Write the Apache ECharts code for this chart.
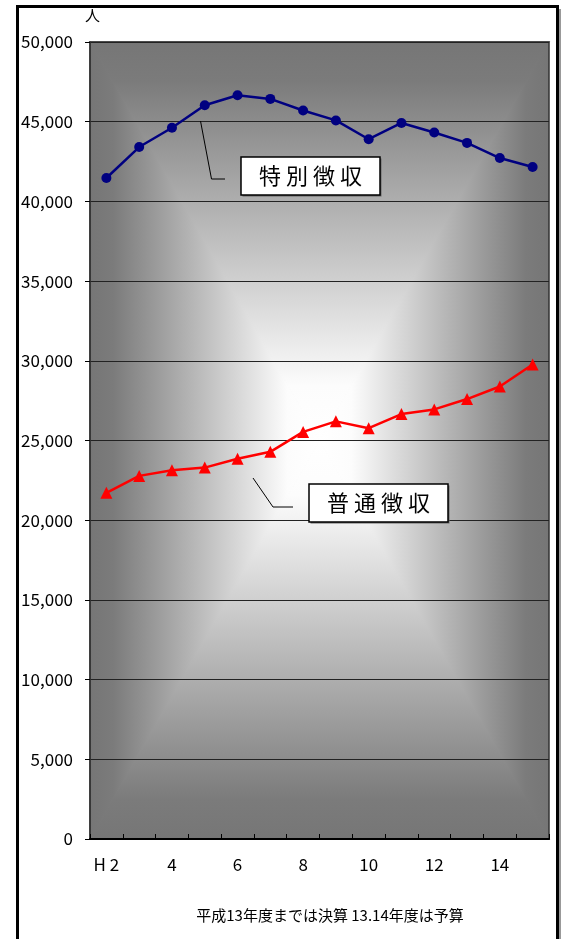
<!DOCTYPE html>
<html>
<head>
<meta charset="utf-8">
<script src="https://cdn.jsdelivr.net/npm/echarts@6/dist/echarts.min.js"></script>
<style>
html,body{margin:0;padding:0;background:#fff;}
#chart{width:567px;height:939px;}
</style>
</head>
<body>
<div id="chart"></div>
<script>
// ---- data ----
const categories = ['H 2','3','4','5','6','7','8','9','10','11','12','13','14','15'];
const tokubetsuName = '特別徴収';
const tokubetsu = [41470, 43410, 44620, 46030, 46660, 46430, 45700, 45080, 43900, 44920, 44320, 43670, 42720, 42160];
const futsuName = '普通徴収';
const futsu = [21720, 22780, 23140, 23300, 23860, 24290, 25540, 26200, 25770, 26660, 26950, 27600, 28390, 29770];
const yTicks = { min: 0, max: 50000, interval: 5000 };
const unitLabel = '人';
const footnote = '平成13年度までは決算 13.14年度は予算';

// ---- layout ----
const W = 567, H = 939;
const GL = 90, GT = 42, GR = 549, GB = 839;
const CX = (GL + GR) / 2, CY = (GT + GB) / 2;
const FONT = '"Noto Sans CJK JP", "Liberation Sans", sans-serif';

const stops = [
  {offset: 0, color: '#767676'},
  {offset: 0.1, color: '#7b7b7b'},
  {offset: 0.86, color: '#fcfcfc'},
  {offset: 1, color: '#ffffff'}
];
function grad(x, y, x2, y2) {
  return {type: 'linear', x: x, y: y, x2: x2, y2: y2, colorStops: stops};
}
const bg = [
  {type: 'rect', z: -12, silent: true, shape: {x: GL, y: GT, width: GR - GL, height: GB - GT}, style: {fill: '#9a9a9a'}},
  {type: 'polygon', z: -11, silent: true, shape: {points: [[GL, GT], [GL, GB], [CX, CY]]}, style: {fill: grad(0, 0, 1, 0)}},
  {type: 'polygon', z: -11, silent: true, shape: {points: [[GR, GT], [GR, GB], [CX, CY]]}, style: {fill: grad(1, 0, 0, 0)}},
  {type: 'polygon', z: -10, silent: true, shape: {points: [[GL, GT], [GR, GT], [CX, CY]]}, style: {fill: grad(0, 0, 0, 1), stroke: grad(0, 0, 0, 1), lineWidth: 1.5}},
  {type: 'polygon', z: -10, silent: true, shape: {points: [[GL, GB], [GR, GB], [CX, CY]]}, style: {fill: grad(0, 1, 0, 0), stroke: grad(0, 1, 0, 0), lineWidth: 1.5}}
];

function callout(box, text, leader) {
  return [
    {type: 'polyline', z: 100, silent: true, shape: {points: leader}, style: {stroke: '#000', lineWidth: 1, fill: null}},
    {type: 'rect', z: 100, silent: true, shape: {x: box[0] + 1.5, y: box[1] + 1.5, width: box[2], height: box[3]}, style: {fill: '#666'}},
    {type: 'rect', z: 101, silent: true, shape: {x: box[0], y: box[1], width: box[2], height: box[3]}, style: {fill: '#fff', stroke: '#000', lineWidth: 1.5}},
    {type: 'text', z: 102, silent: true, x: box[0] + box[2] / 2, y: box[1] + box[3] / 2,
      style: {text: text, fill: '#000', font: '22px ' + FONT, align: 'center', verticalAlign: 'middle'}}
  ];
}

const graphics = [].concat(
  bg,
  callout([241, 157, 139, 38], '特 別 徴 収', [[200.5, 121], [211.5, 179], [225, 179]]),
  callout([309, 484, 139, 38], '普 通 徴 収', [[253, 478], [273, 507], [293, 507]]),
  [
    {type: 'text', z: 100, silent: true, x: 330, y: 915,
      style: {text: footnote, fill: '#000', font: '15px ' + FONT, align: 'center', verticalAlign: 'middle'}},
    {type: 'rect', z: 100, silent: true, shape: {x: 17.5, y: 6.5, width: 540, height: 1000},
      style: {fill: null, stroke: '#000', lineWidth: 3}},
    {type: 'line', z: 99, silent: true, shape: {x1: 560, y1: 9, x2: 560, y2: 939},
      style: {stroke: '#999', lineWidth: 2}}
  ]
);

const chart = echarts.init(document.getElementById('chart'), null, {renderer: 'canvas'});
chart.setOption({
  animation: false,
  backgroundColor: '#fff',
  textStyle: {fontFamily: FONT},
  grid: {left: GL, top: GT, right: W - GR, bottom: H - GB, show: true, borderColor: '#333', borderWidth: 1.5, backgroundColor: 'transparent'},
  xAxis: {
    type: 'category',
    data: categories,
    boundaryGap: true,
    axisLine: {show: true, lineStyle: {color: '#000', width: 2}},
    axisTick: {show: true, inside: true, length: 5, interval: 0, lineStyle: {color: '#000', width: 1}},
    axisLabel: {interval: 1, color: '#000', fontSize: 17, margin: 17, fontFamily: FONT},
    splitLine: {show: false}
  },
  yAxis: {
    type: 'value',
    min: yTicks.min, max: yTicks.max, interval: yTicks.interval,
    name: unitLabel,
    nameLocation: 'end',
    nameGap: 19,
    nameTextStyle: {color: '#000', fontSize: 15, fontFamily: FONT, align: 'left', padding: [0, 0, 0, -5]},
    axisLine: {show: true, lineStyle: {color: '#333', width: 1.5}},
    axisTick: {show: true, length: 5, lineStyle: {color: '#000', width: 1}},
    axisLabel: {color: '#000', fontSize: 17, margin: 17, fontFamily: FONT,
      formatter: function (v) { return v.toLocaleString('en-US'); }},
    splitLine: {show: true, lineStyle: {color: '#222', width: 1}}
  },
  series: [
    {
      name: tokubetsuName, type: 'line', data: tokubetsu,
      symbol: 'circle', symbolSize: 10,
      lineStyle: {color: '#000080', width: 2.5},
      itemStyle: {color: '#000080'}
    },
    {
      name: futsuName, type: 'line', data: futsu,
      symbol: 'triangle', symbolSize: 12,
      lineStyle: {color: '#ff0000', width: 2.5},
      itemStyle: {color: '#ff0000'}
    }
  ],
  graphic: graphics
});
</script>
</body>
</html>
